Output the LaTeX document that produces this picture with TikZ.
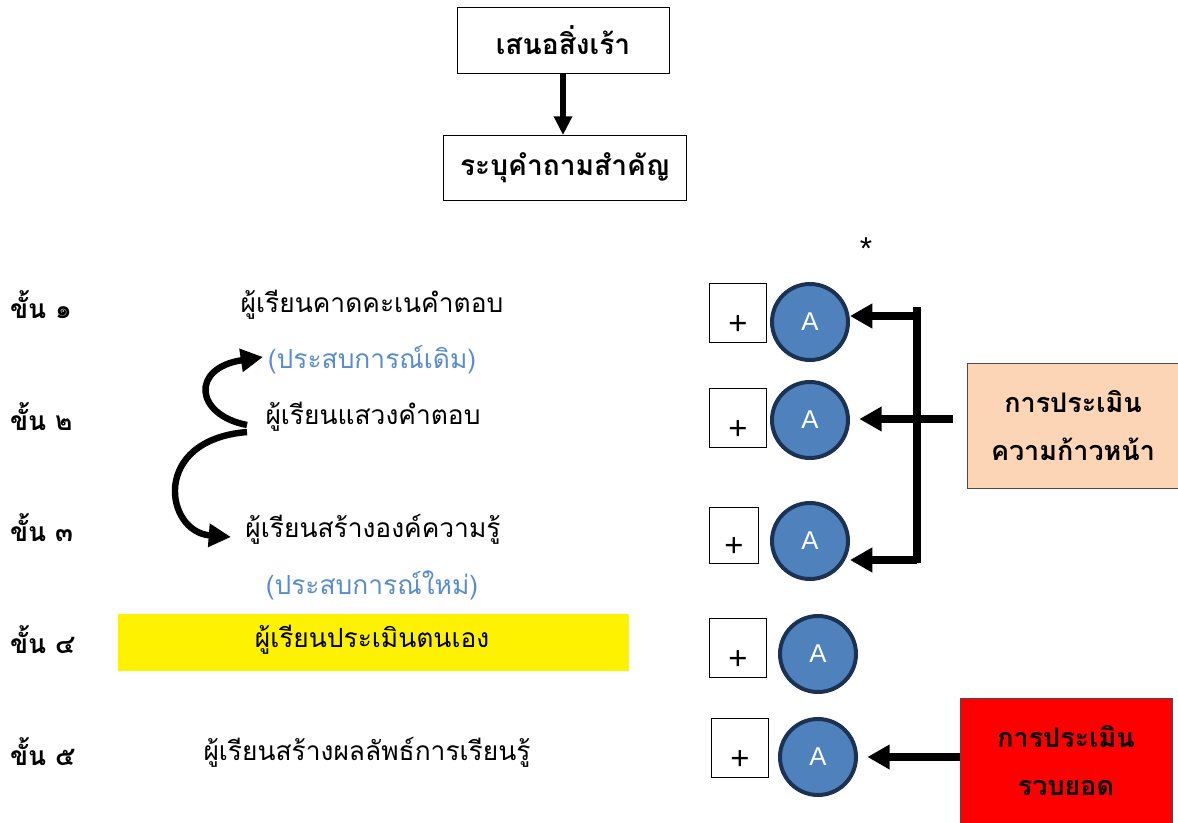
\documentclass[tikz,border=0pt]{standalone}
\usepackage{fontspec}
\setmainfont[Script=Thai]{Loma}
\newfontfamily\latinfont{Liberation Sans}
\usetikzlibrary{arrows.meta,positioning}

\definecolor{circfill}{RGB}{79,129,189}
\definecolor{circline}{RGB}{28,50,82}
\definecolor{expblue}{RGB}{88,140,208}
\definecolor{peach}{RGB}{251,213,181}

\tikzset{
  thaitext/.style={font=\fontsize{22.5}{26}\selectfont},
  topbox/.style={draw, line width=0.8pt, font=\bfseries\fontsize{24}{28}\selectfont},
  steplabel/.style={anchor=west, font=\bfseries\fontsize{22.5}{26}\selectfont},
  markbox/.style={draw, line width=0.6pt},
  gradecirc/.style={circle, draw=circline, fill=circfill, line width=3.4pt,
    minimum size=2.28cm, text=white, font=\latinfont\fontsize{22}{24}\selectfont},
  assessbox/.style={draw=black!70, line width=0.8pt, minimum width=6.36cm, minimum height=3.75cm,
    align=center, font=\bfseries\fontsize{23}{27}\selectfont},
  fatarrow/.style={line width=6pt, -{Triangle[length=19pt,width=20pt]}},
}

\begin{document}
\begin{tikzpicture}[x=0.03cm, y=-0.03cm]

    % ขอบเขตภาพ
    \useasboundingbox (0,0) rectangle (1178,823);

    % กล่องด้านบน
    \node[topbox, minimum width=6.36cm, minimum height=1.98cm] (stim) at (563,40) {เสนอสิ่งเร้า};
    \node[topbox, minimum width=7.29cm, minimum height=1.95cm] (ques) at (565,168) {ระบุคำถามสำคัญ};
    \draw[line width=5pt, -{Triangle[length=16pt,width=15pt]}] (stim.south) -- (stim.south |- ques.north);

    % ขั้นที่ 1-5
    \foreach \i/\num/\ypos in {1/๑/305, 2/๒/417, 3/๓/528, 4/๔/640, 5/๕/752} {
      \node[steplabel] (k\i) at (6,\ypos) {ขั้น \num};
    }

    % แถบสีเหลืองของขั้นที่ 4
    \fill[yellow] (118,614) rectangle (629,671);

    % ข้อความของแต่ละขั้น
    \node[thaitext] (t1) at (372,305) {ผู้เรียนคาดคะเนคำตอบ};
    \node[thaitext, text=expblue] (old) at (372,360) {(ประสบการณ์เดิม)};
    \node[thaitext] (t2) at (373,417) {ผู้เรียนแสวงคำตอบ};
    \node[thaitext] (t3) at (373,529) {ผู้เรียนสร้างองค์ความรู้};
    \node[thaitext, text=expblue] (new) at (372,585) {(ประสบการณ์ใหม่)};
    \node[thaitext] (t4) at (372,640) {ผู้เรียนประเมินตนเอง};
    \node[thaitext] (t5) at (367,752) {ผู้เรียนสร้างผลลัพธ์การเรียนรู้};

    % ลูกศรโค้ง
    \coordinate (c1) at (247,425);
    \coordinate (c2) at (247,432);
    \coordinate (oldtip) at (263,357);
    \coordinate (newtip) at (231,537);
    \draw[line width=5.5pt, -{Triangle[length=19pt,width=19pt]}]
      (c1) .. controls (195,415) and (190,368) .. (oldtip);
    \draw[line width=5.5pt, -{Triangle[length=19pt,width=19pt]}]
      (c2) .. controls (150,440) and (165,532) .. (newtip);

    % ช่องคะแนนและวงกลม
    \foreach \i/\sx/\sy/\sw/\sh/\cx/\cy in {1/738/313/1.71/1.77/810/322, 2/738/418/1.71/1.77/810/420,
                                           3/734/535/1.47/1.68/810/541, 4/738/648/1.71/1.77/818/654,
                                           5/740/748/1.71/1.77/818/757} {
      \node[markbox, minimum width=\sw cm, minimum height=\sh cm,
            label={[yshift=-0.36cm]center:{\latinfont\fontsize{28}{30}\selectfont +}}] (s\i) at (\sx,\sy) {};
      \node[gradecirc] (a\i) at (\cx,\cy) {\raisebox{-3pt}{A}};
    }
    \node[font=\latinfont\fontsize{27}{30}\selectfont] (star) at (866,249) {*};

    % กล่องการประเมิน
    \node[assessbox, fill=peach] (prog) at (1073,426) {การประเมิน\\[14pt]ความก้าวหน้า};
    \node[assessbox, fill=red] (summ) at (1066,761) {การประเมิน\\[14pt]รวบยอด};

    % ลูกศรการประเมินความก้าวหน้า
    \coordinate (bt) at (917,316);
    \coordinate (bb) at (917,560);
    \coordinate (pm) at (953,419);
    \draw[line width=6pt] (917,307) -- (917,563);
    \draw[fatarrow] (bt) -- (bt -| a1.east);
    \draw[fatarrow] (bb) -- (bb -| a3.east);
    \draw[fatarrow, shorten >=8pt] (pm) -- (pm -| a2.east);

    % ลูกศรการประเมินรวบยอด
    \draw[fatarrow, shorten >=8pt] (summ.west |- a5) -- (a5.east);

\end{tikzpicture}
\end{document}
